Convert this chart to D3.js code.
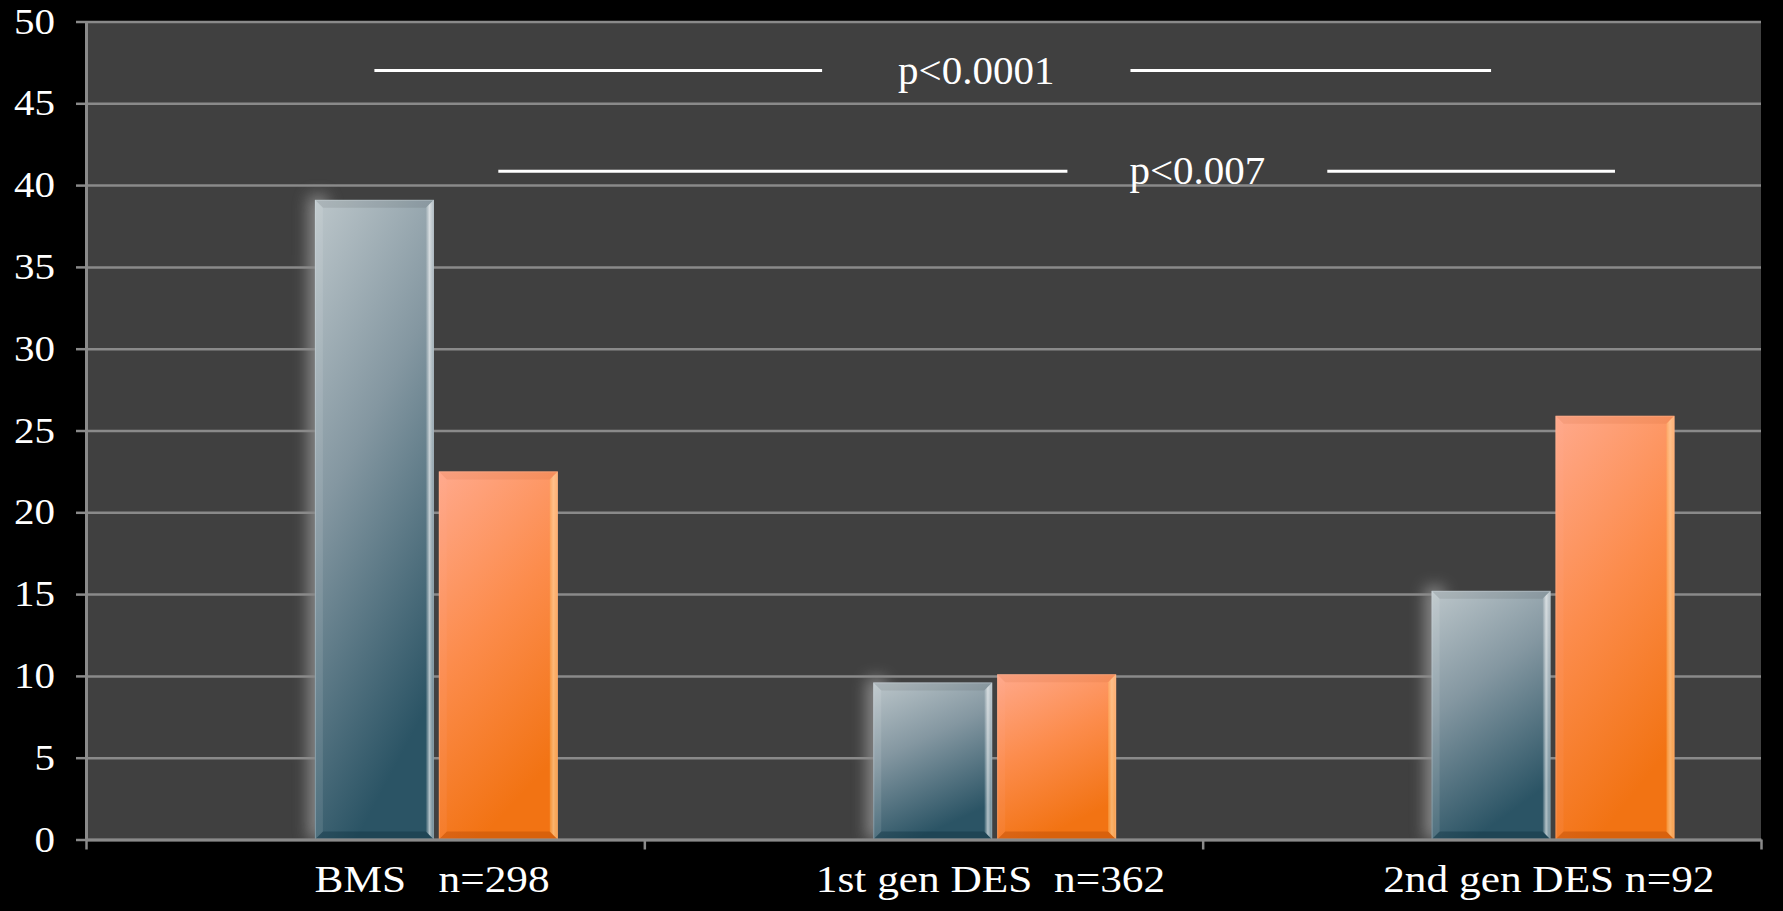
<!DOCTYPE html>
<html>
<head>
<meta charset="utf-8">
<script src="https://cdn.jsdelivr.net/npm/d3@7/dist/d3.min.js"></script>
<style>
  html, body { margin: 0; padding: 0; background: #000; }
  svg { display: block; }
  text { font-family: "Liberation Serif", "Times New Roman", serif; fill: #fff; }
</style>
</head>
<body>
<svg id="chart" width="1783" height="911"></svg>
<script>
// ---- data ----
const categories = ["BMS", "1st gen DES", "2nd gen DES"];
const categoryLabels = ["BMS   n=298", "1st gen DES  n=362", "2nd gen DES n=92"];
const blueValues = [39.1, 9.6, 15.2];
const orangeValues = [22.5, 10.1, 25.9];
const yTickValues = [0, 5, 10, 15, 20, 25, 30, 35, 40, 45, 50];
// significance brackets: which series, between which categories, at what height
const comparisons = [
  { label: "p<0.0001", series: 0, from: 0, to: 2, y: 47.0, labelAt: 0.539, pad: 76 },
  { label: "p<0.007",  series: 1, from: 0, to: 2, y: 40.85, labelAt: 0.626, pad: 62 }
];

// ---- layout ----
const W = 1783, H = 911;
const margin = { top: 21.5, right: 22, bottom: 71.5, left: 86 };
const plotW = W - margin.left - margin.right;
const plotH = H - margin.top - margin.bottom;
const AXIS_GREY = "#8a8a8a";

const svg = d3.select("#chart");
const defs = svg.append("defs");

const blueGrad = defs.append("linearGradient").attr("id", "blueGrad")
  .attr("x1", 0).attr("y1", 0).attr("x2", 0.35).attr("y2", 1);
[[0, "#bcc6ca"], [0.45, "#8497a1"], [1, "#2b5465"]].forEach(([o, c]) =>
  blueGrad.append("stop").attr("offset", o).attr("stop-color", c));

const orangeGrad = defs.append("linearGradient").attr("id", "orangeGrad")
  .attr("x1", 0).attr("y1", 0).attr("x2", 0.35).attr("y2", 1);
[[0, "#ffa98c"], [0.5, "#fc8c4c"], [1, "#f27313"]].forEach(([o, c]) =>
  orangeGrad.append("stop").attr("offset", o).attr("stop-color", c));

const shine = defs.append("linearGradient").attr("id", "shine")
  .attr("x1", 0).attr("y1", 0).attr("x2", 1).attr("y2", 0);
[[0, 0.05], [0.45, 0.75], [1, 0.3]].forEach(([o, a]) =>
  shine.append("stop").attr("offset", o).attr("stop-color", "#fff").attr("stop-opacity", a));

defs.append("filter").attr("id", "glow")
  .attr("x", "-200%").attr("y", "-20%").attr("width", "500%").attr("height", "140%")
  .append("feGaussianBlur").attr("stdDeviation", 8);

defs.append("clipPath").attr("id", "plotClip")
  .append("rect").attr("width", plotW).attr("height", plotH);

// ---- scales ----
const x0 = d3.scaleBand().domain(categories).range([0, plotW]).padding(0);
const x1 = d3.scaleBand().domain([0, 1])
  .range([x0.step() * 0.41, x0.step() * 0.845]).paddingInner(0.04);
const xEdge = d3.scaleLinear().domain([0, categories.length]).range([0, plotW]);
const y = d3.scaleLinear().domain([0, 50]).range([plotH, 0]);

const plot = svg.append("g").attr("transform", `translate(${margin.left},${margin.top})`);

// plot background
plot.append("rect").attr("width", plotW).attr("height", plotH).attr("fill", "#404040");

const barData = categories.flatMap((c, i) => [
  { cat: c, s: 0, v: blueValues[i] },
  { cat: c, s: 1, v: orangeValues[i] }
]);
const bw = x1.bandwidth();

// soft halo on the left side of each group
plot.append("g").attr("clip-path", "url(#plotClip)")
  .selectAll("rect").data(barData.filter(d => d.s === 0)).join("rect")
  .attr("x", d => x0(d.cat) + x1(0) - 6)
  .attr("y", d => y(d.v) - 4)
  .attr("width", 18)
  .attr("height", d => plotH - y(d.v) + 4)
  .attr("fill", "#d0d0d0").attr("opacity", 0.55)
  .attr("filter", "url(#glow)");

// horizontal gridlines
const grid = plot.append("g")
  .call(d3.axisLeft(y).tickValues(yTickValues).tickSize(-plotW).tickFormat(""));
grid.select(".domain").remove();
grid.selectAll("line").attr("stroke", AXIS_GREY).attr("stroke-width", 2.5);

// bars with bevelled edges
const b = 8;
const bars = plot.selectAll("g.bar").data(barData).join("g")
  .attr("class", "bar")
  .attr("transform", d => `translate(${x0(d.cat) + x1(d.s)},${y(d.v)})`);
bars.append("rect")
  .attr("width", bw).attr("height", d => plotH - y(d.v))
  .attr("fill", d => d.s === 0 ? "url(#blueGrad)" : "url(#orangeGrad)");
// top
bars.append("path")
  .attr("d", d => `M0,0H${bw}L${bw - b},${b}H${b}Z`)
  .attr("fill", d => d.s === 0 ? "#000" : "#b04010")
  .attr("opacity", d => d.s === 0 ? 0.08 : 0.1);
// bottom
bars.append("path")
  .attr("d", d => { const h = plotH - y(d.v); return `M0,${h}H${bw}L${bw - b},${h - b}H${b}Z`; })
  .attr("fill", d => d.s === 0 ? "#0a2a38" : "#a84000").attr("opacity", 0.35);
// left
bars.append("path")
  .attr("d", d => { const h = plotH - y(d.v); return `M0,0V${h}L${b},${h - b}V${b}Z`; })
  .attr("fill", d => d.s === 0 ? "#fff" : "#ffb0a0").attr("opacity", 0.1);
// right shine
bars.append("path")
  .attr("d", d => { const h = plotH - y(d.v); return `M${bw},0V${h}L${bw - b},${h - b}V${b}Z`; })
  .attr("fill", "url(#shine)")
  .attr("opacity", d => d.s === 0 ? 0.85 : 0.55);
bars.append("path")
  .attr("d", d => { const h = plotH - y(d.v); return `M${bw},0V${h}L${bw - b},${h - b}V${b}Z`; })
  .attr("fill", d => d.s === 0 ? "none" : "#ffc060")
  .attr("opacity", 0.35);
// thin rim
bars.append("rect")
  .attr("x", 0.5).attr("y", 0.5)
  .attr("width", bw - 1).attr("height", d => Math.max(0, plotH - y(d.v) - 1))
  .attr("fill", "none")
  .attr("stroke", d => d.s === 0 ? "#d8e0e4" : "#ffc0a0")
  .attr("stroke-opacity", 0.35).attr("stroke-width", 1);

// stretch text horizontally
function stretch(sel, k) {
  sel.each(function () {
    const w = this.getComputedTextLength();
    d3.select(this).attr("textLength", w * k).attr("lengthAdjust", "spacingAndGlyphs");
  });
}

// y axis
const yAxis = plot.append("g")
  .call(d3.axisLeft(y).tickValues(yTickValues).tickSize(10).tickSizeOuter(0).tickPadding(21));
yAxis.select(".domain").attr("stroke", AXIS_GREY).attr("stroke-width", 3);
yAxis.selectAll(".tick line").attr("stroke", AXIS_GREY).attr("stroke-width", 2.5);
yAxis.selectAll(".tick text")
  .attr("font-family", "Liberation Serif, serif")
  .attr("font-size", 36).attr("fill", "#fff");
stretch(yAxis.selectAll(".tick text"), 1.14);

// x axis with ticks between categories
const xAxis = plot.append("g").attr("transform", `translate(0,${plotH})`)
  .call(d3.axisBottom(xEdge).tickValues(d3.range(categories.length + 1))
    .tickSize(10).tickSizeOuter(0).tickFormat(""));
xAxis.select(".domain").attr("stroke", AXIS_GREY).attr("stroke-width", 3);
xAxis.selectAll(".tick line").attr("stroke", AXIS_GREY).attr("stroke-width", 2.5);

// category labels
const catText = plot.append("g").selectAll("text").data(categories).join("text")
  .attr("x", d => x0(d) + x0.step() * 0.62)
  .attr("y", plotH + 52.5)
  .attr("text-anchor", "middle")
  .attr("font-size", 38)
  .style("white-space", "pre")
  .text((d, i) => categoryLabels[i]);
stretch(catText, 1.14);

// significance brackets
comparisons.forEach(c => {
  const xs = x0(categories[c.from]) + x1(c.series) + bw / 2;
  const xe = x0(categories[c.to]) + x1(c.series) + bw / 2;
  const ly = y(c.y);
  const cx = xs + (xe - xs) * c.labelAt;
  const t = plot.append("text")
    .attr("x", cx).attr("y", ly + 13)
    .attr("text-anchor", "middle")
    .attr("font-size", 41)
    .text(c.label);
  const tw = t.node().getComputedTextLength();
  [[xs, cx - tw / 2 - c.pad], [cx + tw / 2 + c.pad, xe]].forEach(([a, z]) =>
    plot.append("line")
      .attr("x1", a).attr("x2", z).attr("y1", ly).attr("y2", ly)
      .attr("stroke", "#fff").attr("stroke-width", 3));
});
</script>
</body>
</html>
